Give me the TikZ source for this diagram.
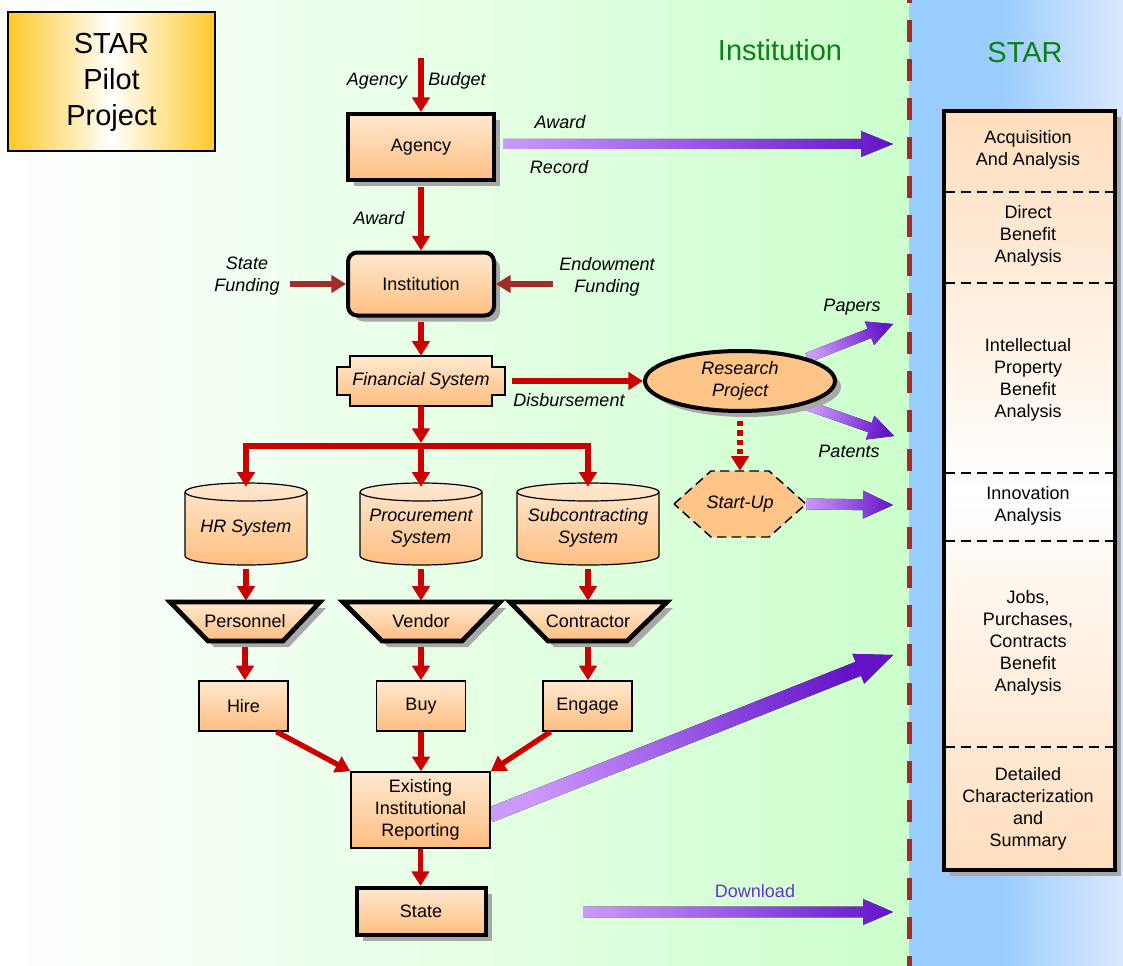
\documentclass[tikz,border=0pt]{standalone}
\usepackage{fontspec}
\setmainfont{Liberation Sans}
\usetikzlibrary{arrows.meta,calc,shadows,shapes.geometric}
\definecolor{redc}{RGB}{204,0,0}
\definecolor{brownc}{RGB}{160,45,40}
\definecolor{plight}{RGB}{204,153,255}
\definecolor{pdark}{RGB}{100,20,200}
\definecolor{peachT}{RGB}{255,232,208}
\definecolor{peachB}{RGB}{255,190,128}
\definecolor{peachU}{RGB}{255,196,136}
\definecolor{greenbg}{RGB}{204,255,204}
\definecolor{blueA}{RGB}{153,204,255}
\definecolor{blueB}{RGB}{218,232,252}
\definecolor{gold}{RGB}{255,200,40}
\definecolor{titlegreen}{RGB}{10,130,20}
\definecolor{shadowc}{RGB}{168,168,168}
\definecolor{dlc}{RGB}{102,51,204}
\definecolor{colT}{RGB}{255,222,190}
\pgfdeclarelayer{bg}
\pgfdeclarelayer{shp}
\pgfsetlayers{bg,shp,main}
% #1 start, #2 end, #3 half shaft, #4 head length, #5 head half width, #6 shading angle
\newcommand\purarrow[6]{%
  \coordinate (ph) at ($(#2)!#4!(#1)$);
  \fill[bottom color=plight, top color=pdark, shading angle=#6]
    ($(#1)!#3!90:(#2)$) -- ($(ph)!#3!90:(#2)$) -- ($(ph)!#5!90:(#2)$) -- (#2)
    -- ($(ph)!#5!-90:(#2)$) -- ($(ph)!#3!-90:(#2)$) -- ($(#1)!#3!-90:(#2)$) -- cycle;}
\tikzset{
  lbl/.style={font=\fontsize{13.5}{16.5}\selectfont\itshape, align=center, inner sep=0pt},
  btxt/.style={font=\fontsize{13.5}{16.5}\selectfont, align=center},
  itxt/.style={font=\fontsize{13.5}{16.5}\selectfont\itshape, align=center},
  peach/.style={top color=peachT, bottom color=peachB},
  shad/.style={drop shadow={shadow xshift=4.5pt, shadow yshift=-4.5pt, fill=shadowc, opacity=1}},
  thickbox/.style={draw=black, line width=3pt, peach, shad, btxt, inner sep=0pt},
  thinbox/.style={draw=black, line width=1.1pt, peach, btxt, inner sep=0pt},
  txtonly/.style={inner sep=0pt},
  redarrow/.style={draw=redc, line width=4pt, -{Triangle[length=11pt,width=13pt]}},
  redline/.style={draw=redc, line width=4pt},
  brownarrow/.style={draw=brownc, line width=5pt, -{Triangle[length=11pt,width=13pt]}},
  divider/.style={draw=black, line width=1.5pt, dash pattern=on 7.5pt off 4.5pt},
  coltxt/.style={btxt, inner sep=0pt},
  title/.style={font=\fontsize{21.75}{26}\selectfont, text=titlegreen},
}
\begin{document}
\begin{tikzpicture}[x=0.75pt,y=-0.75pt]
\useasboundingbox (0,0) rectangle (1123,966);
\begin{pgfonlayer}{bg}
  \fill[left color=white, right color=greenbg] (0,0) rectangle (909,966);
  \fill[blueA] (909,0) rectangle (996,966);
  \fill[left color=blueA, right color=blueB] (995,0) rectangle (1123,966);
  \draw[brownc, line width=3.75pt, dash pattern=on 16.5pt off 12.75pt] (909,-19) -- (909,966);
\end{pgfonlayer}

% titles
\node[title] (tinst) at (780,50) {Institution};
\node[title] (tstar) at (1025,53) {STAR};
\node[draw=black, line width=1.5pt, left color=gold, right color=gold, middle color=white,
      minimum width=155.25pt, minimum height=104.25pt, align=center,
      font=\fontsize{21.75}{27}\selectfont] (pilot) at (111.5,82) {STAR\\Pilot\\Project};

% main boxes
\node[thickbox, minimum width=109.5pt, minimum height=49.5pt] (agency) at (421,147) {Agency};
\node[thickbox, rounded corners=7pt, minimum width=109.5pt, minimum height=47.25pt] (inst) at (421,284) {Institution};
\node[txtonly, itxt, minimum width=126pt, minimum height=37.5pt] (fin) at (421,381) {Financial System};
\node[ellipse, draw=black, line width=3pt, fill=peachU, shad, itxt, inner sep=0pt,
      minimum width=142.5pt, minimum height=45pt] (rp) at (740,381) {Research\\Project};
\node[txtonly, itxt, minimum width=99pt, minimum height=49.5pt] (su) at (740,504) {Start-Up};

\node[txtonly, itxt, minimum width=91.5pt, minimum height=61.5pt] (hr) at (246,528) {HR System};
\node[txtonly, itxt, minimum width=91.5pt, minimum height=61.5pt] (proc) at (421,528) {Procurement\\System};
\node[txtonly, itxt, minimum width=106.5pt, minimum height=61.5pt] (sub) at (588,528) {Subcontracting\\System};

\node[txtonly, btxt, minimum width=112.5pt, minimum height=30pt] (pers) at (245,621) {Personnel};
\node[txtonly, btxt, minimum width=117.75pt, minimum height=30pt] (vend) at (421,621) {Vendor};
\node[txtonly, btxt, minimum width=117.75pt, minimum height=30pt] (cont) at (588,621) {Contractor};

\node[thinbox, minimum width=66.75pt, minimum height=37.5pt] (hire) at (243.5,706) {Hire};
\node[thinbox, minimum width=66.75pt, minimum height=37.5pt] (buy) at (421,706) {Buy};
\node[thinbox, minimum width=66.75pt, minimum height=37.5pt] (engage) at (587.5,706) {Engage};
\node[thinbox, minimum width=104.25pt, minimum height=57pt] (exist) at (420.5,810) {Existing\\Institutional\\Reporting};
\node[thickbox, minimum width=96.75pt, minimum height=35.25pt] (state) at (421,911.5) {State};

% STAR column
\node[draw=black, line width=3pt, shad, top color=colT, bottom color=colT, middle color=white,
      minimum width=128.25pt, minimum height=569.25pt, inner sep=0pt] (col) at (1029.5,490.5) {};
\foreach \yy in {192,283,473,541,747}
  \draw[divider] ($(col.west |- 0,\yy)+(3,0)$) -- ($(col.east |- 0,\yy)+(-3,0)$);
\node[coltxt] (c1) at (1028,150) {Acquisition\\And Analysis};
\node[coltxt] (c2) at (1028,235.5) {Direct\\Benefit\\Analysis};
\node[coltxt] (c3) at (1028,379.5) {Intellectual\\Property\\Benefit\\Analysis};
\node[coltxt] (c4) at (1028,506) {Innovation\\Analysis};
\node[coltxt] (c5) at (1028,642.5) {Jobs,\\Purchases,\\Contracts\\Benefit\\Analysis};
\node[coltxt] (c6) at (1028,808.5) {Detailed\\Characterization\\and\\Summary};

% custom outlines
\begin{pgfonlayer}{shp}
  \draw[peach, line width=0.9pt] (350,356) -- (492,356) -- (492,367) -- (505,367) -- (505,395)
    -- (492,395) -- (492,406) -- (350,406) -- (350,395) -- (337,395) -- (337,367) -- (350,367) -- cycle;
  \draw[fill=peachU, line width=1.1pt, dash pattern=on 7pt off 4pt]
    (674,504) -- (711,471) -- (769,471) -- (806,504) -- (769,537) -- (711,537) -- cycle;
  \foreach \cx/\rx in {246/61,421/61,588/71}{
    \draw[peach, line width=0.9pt] (\cx-\rx,492) -- (\cx-\rx,556)
      arc[start angle=180, end angle=0, x radius=\rx, y radius=9] -- (\cx+\rx,492)
      arc[start angle=0, end angle=-180, x radius=\rx, y radius=9] -- cycle;
    \draw[line width=0.9pt] (\cx-\rx,492) arc[start angle=180, end angle=0, x radius=\rx, y radius=9];
  }
  \draw[peach, line width=3.5pt, shad] (170,602) -- (320,602) -- (283,641) -- (208,641) -- cycle;
  \draw[peach, line width=3.5pt, shad] (343,602) -- (500,602) -- (462,641) -- (382,641) -- cycle;
  \draw[peach, line width=3.5pt, shad] (510,602) -- (667,602) -- (627,641) -- (548,641) -- cycle;

  % purple arrows
  \coordinate (aw1) at (503,144); \coordinate (aw2) at (893,144);
  \purarrow{aw1}{aw2}{3.75pt}{24pt}{9.75pt}{-90}
  \coordinate (pp2) at (893,324);
  \purarrow{rp.19}{pp2}{3.75pt}{19pt}{9.5pt}{-68.8}
  \coordinate (pt2) at (894,436);
  \purarrow{rp.-20}{pt2}{3.75pt}{19pt}{9.5pt}{-109.8}
  \coordinate (sa2) at (893,505);
  \purarrow{su.east}{sa2}{4.1pt}{22.5pt}{10.5pt}{-90}
  \coordinate (ea1) at (490,815); \coordinate (ea2) at (893,655);
  \purarrow{ea1}{ea2}{5.6pt}{28pt}{12pt}{-68.3}
  \coordinate (dl1) at (583,912); \coordinate (dl2) at (893,912);
  \purarrow{dl1}{dl2}{4.1pt}{22.5pt}{9.75pt}{-90}
\end{pgfonlayer}

% labels
\node[lbl] (lab-ag) at (377,81) {Agency};
\node[lbl] (lab-bu) at (457,81) {Budget};
\node[lbl] (lab-aw) at (379,218) {Award};
\node[lbl] (lab-sf) at (247,276.5) {State\\Funding};
\node[lbl] (lab-ef) at (607,277) {Endowment\\Funding};
\node[lbl] (lab-awd) at (560,122) {Award};
\node[lbl] (lab-rec) at (559,167) {Record};
\node[lbl] (lab-dis) at (569,400) {Disbursement};
\node[lbl] (lab-pap) at (852,307) {Papers};
\node[lbl] (lab-pat) at (849,451) {Patents};
\node[font=\fontsize{13.5}{16.5}\selectfont, text=dlc, inner sep=0pt] (lab-dl) at (755,891) {Download};

% red connectors
\coordinate (bud) at (421,58);
\draw[redarrow] (bud) -- (agency.north);
\draw[redarrow, shorten <=4pt] (agency.south) -- (inst.north);
\coordinate (sf) at (290,284);
\draw[brownarrow] (sf) -- (inst.west);
\coordinate (ef) at (553,284);
\draw[brownarrow] (ef) -- (inst.east);
\draw[redarrow, shorten <=3pt] (inst.south) -- (inst.south |- fin.north);
\draw[redarrow, shorten <=5pt] (fin.east) -- (rp.west);
\coordinate (split) at (421,446);
\draw[redarrow] (fin.south) -- ($(split)+(0,-3)$);
\draw[redline, {Triangle[length=11pt,width=13pt]}-{Triangle[length=11pt,width=13pt]}] (hr.north) |- (split) -| (sub.north);
\draw[redarrow] (split) -- (proc.north);
\draw[redarrow, dash pattern=on 4pt off 3pt, shorten <=6pt] (rp.south) -- (su.north);
\draw[redarrow] (hr.south) -- (hr.south |- pers.north);
\draw[redarrow] (proc.south) -- (proc.south |- vend.north);
\draw[redarrow] (sub.south) -- (sub.south |- cont.north);
\draw[redarrow, shorten <=4pt] (pers.south) -- (pers.south |- hire.north);
\draw[redarrow, shorten <=4pt] (vend.south) -- (vend.south |- buy.north);
\draw[redarrow, shorten <=4pt] (cont.south) -- (cont.south |- engage.north);
\draw[redarrow] ($(hire.south)+(33,0)$) -- (exist.north west);
\draw[redarrow] (buy.south) -- (buy.south |- exist.north);
\draw[redarrow] ($(engage.south)+(-37,0)$) -- (exist.north east);
\draw[redarrow] (exist.south) -- (exist.south |- state.north);
\end{tikzpicture}
\end{document}
